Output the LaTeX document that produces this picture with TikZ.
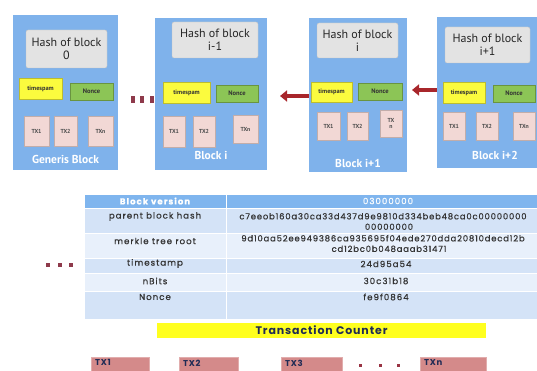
\documentclass[tikz,border=0pt]{standalone}
\usepackage{fontspec}
\setmainfont{PT Sans}
\newfontfamily\tabfont[LetterSpace=12,FakeBold=0.6]{Poppins}
\newfontfamily\hexfont[LetterSpace=10,FakeBold=0.6]{Poppins}
\newfontfamily\tcfont[LetterSpace=8]{Poppins}
\usetikzlibrary{arrows.meta}
\definecolor{blockblue}{HTML}{7FB2EB}
\definecolor{hashgrey}{HTML}{E3E3E3}
\definecolor{tsyellow}{HTML}{FBFB3E}
\definecolor{ncgreen}{HTML}{8CC556}
\definecolor{txpink}{HTML}{F2D8D5}
\definecolor{arrowred}{HTML}{A8262B}
\definecolor{dotred}{HTML}{8E3A4B}
\definecolor{hdrblue}{HTML}{7FB5EE}
\definecolor{rowa}{HTML}{D4E3F7}
\definecolor{rowb}{HTML}{E8F0FB}
\definecolor{tcyellow}{HTML}{FFFF1F}
\definecolor{navy}{HTML}{1F2B55}
\definecolor{btxred}{HTML}{D48A8A}
\definecolor{tabgrey}{HTML}{333333}
\begin{document}
\begin{tikzpicture}[x=1pt,y=-1pt,
  blk/.style={fill=blockblue, inner sep=0pt},
  hashbox/.style={fill=hashgrey, draw=hashgrey!85!black, line width=0.3pt, rounded corners=2pt, inner sep=0pt, align=center, text=black!85, font=\fontsize{12}{13}\selectfont},
  tsbox/.style={fill=tsyellow, draw=tsyellow!75!black, line width=0.4pt, inner sep=0pt, text=black!80, font=\bfseries\fontsize{6.3}{7}\selectfont},
  ncbox/.style={fill=ncgreen, draw=ncgreen!75!black, line width=0.4pt, inner sep=0pt, text=black!80, font=\bfseries\fontsize{6.5}{7}\selectfont},
  txbox/.style={fill=txpink, draw=txpink!80!black, line width=0.3pt, inner sep=0pt, align=center, text=black!70, font=\bfseries\fontsize{5.8}{6}\selectfont},
  blklabel/.style={text=white, inner sep=0pt, font=\bfseries\fontsize{11.5}{12}\selectfont},
  chainarrow/.style={draw=arrowred, line width=4pt, -{Triangle[length=7pt,width=11pt]}},
  dotmark/.style={fill=dotred, draw=none, inner sep=0pt},
  cell/.style={draw=white, line width=0.8pt, inner sep=0pt},
  tabtxt/.style={inner sep=0pt, text=tabgrey, font=\tabfont\fontsize{8.6}{10}\selectfont},
  hextxt/.style={inner sep=0pt, align=center, text=tabgrey, font=\hexfont\fontsize{8.4}{10.5}\selectfont},
  btx/.style={fill=btxred, draw=btxred!70!white, line width=0.5pt, inner sep=0pt},
  btxtext/.style={inner sep=0pt, text=navy, font=\tcfont\bfseries\fontsize{8.5}{9}\selectfont}
]
\useasboundingbox (0,0) rectangle (537,371);
\clip (0,0) rectangle (537,371);

% ---------------- Generis block ----------------
\node[blk, minimum width=105pt, minimum height=155pt] (b0) at (65.5,92.5) {};
\node[hashbox, minimum width=81pt, minimum height=38pt] (h0) at (66.5,49) {Hash of block\\0};
\node[tsbox, minimum width=43pt, minimum height=21pt] (ts0) at (40.5,88.5) {timespam};
\node[ncbox, minimum width=43pt, minimum height=17pt] (nc0) at (91.5,91.5) {Nonce};
\node[txbox, minimum width=25pt, minimum height=30pt] (t01) at (36.5,131) {TX1};
\node[txbox, minimum width=23pt, minimum height=30pt] (t02) at (65.5,131) {TX2};
\node[txbox, minimum width=25pt, minimum height=30pt] (t0n) at (100.5,131) {TXn};
\node[blklabel] (l0) at (65.5,159.5) {Generis Block};

% dots between
\node[dotmark, minimum width=4pt, minimum height=7pt] (d1) at (132.5,99.5) {};
\node[dotmark, minimum width=4pt, minimum height=7pt] (d2) at (141.5,99.5) {};
\node[dotmark, minimum width=4pt, minimum height=7pt] (d3) at (151.5,99.5) {};

% ---------------- Block i ----------------
\node[blk, minimum width=112pt, minimum height=152pt] (b1) at (211,94) {};
\node[hashbox, minimum width=86pt, minimum height=36pt] (h1) at (215,40) {Hash of block\\i-1};
\node[tsbox, minimum width=47pt, minimum height=21pt] (ts1) at (186.5,92.5) {timespam};
\node[ncbox, minimum width=42pt, minimum height=17pt] (nc1) at (237,93.5) {Nonce};
\node[txbox, minimum width=22pt, minimum height=31pt] (t11) at (174,131.5) {TX1};
\node[txbox, minimum width=22pt, minimum height=31pt] (t12) at (204,131.5) {TX2};
\node[txbox, minimum width=25pt, minimum height=28pt] (t1n) at (245.5,129) {TXn};
\node[blklabel] (l1) at (211,155) {Block i};

% ---------------- Block i+1 ----------------
\node[blk, minimum width=98pt, minimum height=154pt] (b2) at (358,95) {};
\node[hashbox, minimum width=81pt, minimum height=35pt] (h2) at (357.5,40.5) {Hash of block\\i};
\node[tsbox, minimum width=41pt, minimum height=20pt] (ts2) at (331.5,92) {timespam};
\node[ncbox, minimum width=44pt, minimum height=17pt] (nc2) at (380,91.5) {Nonce};
\node[txbox, minimum width=23pt, minimum height=28pt] (t21) at (328.5,126) {TX1};
\node[txbox, minimum width=21pt, minimum height=28pt] (t22) at (357.5,126) {TX2};
\node[txbox, minimum width=22pt, minimum height=27pt, font=\bfseries\fontsize{5.8}{6.8}\selectfont] (t2n) at (391,123.5) {TX\\n};
\node[blklabel] (l2) at (358,163) {Block i+1};

% ---------------- Block i+2 ----------------
\node[blk, minimum width=101pt, minimum height=151pt] (b3) at (487.5,92.5) {};
\node[hashbox, minimum width=85pt, minimum height=36pt] (h3) at (487.5,45) {Hash of block\\i+1};
\node[tsbox, minimum width=42pt, minimum height=21pt] (ts3) at (464,92.5) {timespam};
\node[ncbox, minimum width=42pt, minimum height=17pt] (nc3) at (514,93.5) {Nonce};
\node[txbox, minimum width=22pt, minimum height=28pt] (t31) at (454,126) {TX1};
\node[txbox, minimum width=22pt, minimum height=28pt] (t32) at (487,126) {TX2};
\node[txbox, minimum width=22pt, minimum height=28pt] (t3n) at (524,126) {TXn};
\node[blklabel] (l3) at (495,155) {Block i+2};

% arrows
\coordinate (a1e) at (280,96);
\coordinate (a2e) at (412,90);
\draw[chainarrow] (b2.west |- a1e) -- (a1e);
\draw[chainarrow] (b3.west |- a2e) -- (a2e);

% ---------------- Table ----------------
\node[cell, fill=hdrblue, minimum width=142pt, minimum height=14pt] (r0a) at (155,201) {};
\node[cell, fill=hdrblue, minimum width=322pt, minimum height=14pt] (r0b) at (387,201) {};
\node[cell, fill=rowa, minimum width=142pt, minimum height=25pt] (r1a) at (155,220.5) {};
\node[cell, fill=rowa, minimum width=322pt, minimum height=25pt] (r1b) at (387,220.5) {};
\node[cell, fill=rowb, minimum width=142pt, minimum height=25pt] (r2a) at (155,245.5) {};
\node[cell, fill=rowb, minimum width=322pt, minimum height=25pt] (r2b) at (387,245.5) {};
\node[cell, fill=rowa, minimum width=142pt, minimum height=15pt] (r3a) at (155,265.5) {};
\node[cell, fill=rowa, minimum width=322pt, minimum height=15pt] (r3b) at (387,265.5) {};
\node[cell, fill=rowb, minimum width=142pt, minimum height=18pt] (r4a) at (155,282) {};
\node[cell, fill=rowb, minimum width=322pt, minimum height=18pt] (r4b) at (387,282) {};
\node[cell, fill=rowa, minimum width=142pt, minimum height=28pt] (r5a) at (155,305) {};
\node[cell, fill=rowa, minimum width=322pt, minimum height=28pt] (r5b) at (387,305) {};

\node[tabtxt, text=white, font=\tabfont\bfseries\fontsize{8.6}{10}\selectfont] (x0a) at (155,201) {Block version};
\node[tabtxt, text=white] (x0b) at (388,201) {03000000};
\node[tabtxt] (x1a) at (155,216.5) {parent block hash};
\node[hextxt] (x1b) at (383,221.5) {c7eeob160a30ca33d437d9e9810d334beb48ca0c00000000\\\hspace*{12pt}00000000};
\node[tabtxt] (x2a) at (155,241) {merkle tree root};
\node[hextxt] (x2b) at (383,243.5) {9d10aa52ee949386ca935695f04ede270dda20810decd12b\\\hspace*{12pt}cd12bc0b048aaab31471};
\node[tabtxt] (x3a) at (155,263.5) {timestamp};
\node[tabtxt] (x3b) at (386,264) {24d95a54};
\node[tabtxt] (x4a) at (155,281) {nBits};
\node[tabtxt] (x4b) at (386,281) {30c31b18};
\node[tabtxt] (x5a) at (155,297) {Nonce};
\node[tabtxt] (x5b) at (386,297) {fe9f0864};

% left dots
\node[dotmark, minimum width=4pt, minimum height=4pt] (e1) at (48,265) {};
\node[dotmark, minimum width=4pt, minimum height=4pt] (e2) at (59.5,265) {};
\node[dotmark, minimum width=4pt, minimum height=4pt] (e3) at (71,265) {};

% Transaction counter
\node[fill=tcyellow, minimum width=329pt, minimum height=15pt, inner sep=0pt, text=navy, font=\tcfont\bfseries\fontsize{11}{12}\selectfont] (tc) at (321.5,330.5) {Transaction Counter};

% bottom TX boxes
\node[btx, minimum width=58pt, minimum height=22pt, anchor=north west] (bt1) at (91,357) {};
\node[btx, minimum width=59pt, minimum height=22pt, anchor=north west] (bt2) at (179,357) {};
\node[btx, minimum width=61pt, minimum height=22pt, anchor=north west] (bt3) at (281,357) {};
\node[btx, minimum width=66pt, minimum height=22pt, anchor=north west] (btn) at (420,357) {};
\node[btxtext, anchor=north west] (bl1) at ([xshift=4pt,yshift=-2.5pt]bt1.north west) {TX1};
\node[btxtext, anchor=north west] (bl2) at ([xshift=4pt,yshift=-2.5pt]bt2.north west) {TX2};
\node[btxtext, anchor=north west] (bl3) at ([xshift=4pt,yshift=-2.5pt]bt3.north west) {TX3};
\node[btxtext, anchor=north west] (bln) at ([xshift=4pt,yshift=-2.5pt]btn.north west) {TXn};

\node[dotmark, fill=dotred!90!red, minimum width=3pt, minimum height=3pt] (f1) at (360,365) {};
\node[dotmark, fill=dotred!90!red, minimum width=3pt, minimum height=3pt] (f2) at (380.5,365) {};
\node[dotmark, fill=dotred!90!red, minimum width=3pt, minimum height=3pt] (f3) at (398,365) {};
\end{tikzpicture}
\end{document}
